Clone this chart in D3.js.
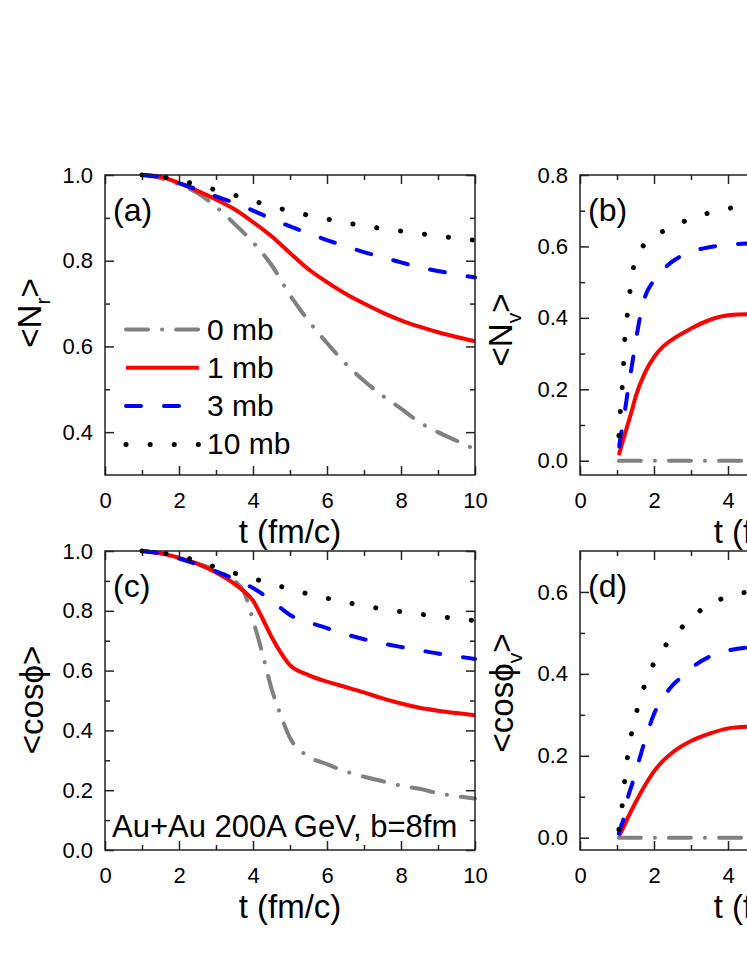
<!DOCTYPE html>
<html>
<head>
<meta charset="utf-8">
<script src="https://d3js.org/d3.v7.min.js"></script>
<style>
  body { margin: 0; background: #fff; }
  svg { display: block; font-family: "Liberation Sans", Arial, sans-serif; }
</style>
</head>
<body>
<div id="chart"></div>
<script>
// ---- data ----
const seriesNames = ['0 mb', '1 mb', '3 mb', '10 mb'];

// common time grid (fm/c)
const tGrid = [1, 1.5, 2, 2.5, 3, 3.5, 4, 4.5, 5, 5.5, 6, 6.5, 7, 7.5, 8, 8.5, 9, 9.5, 10];

// (a) <N_r>
const nr0  = [1.0, 0.993, 0.978, 0.958, 0.926, 0.886, 0.843, 0.790, 0.720, 0.660, 0.608, 0.560, 0.520, 0.485, 0.455, 0.423, 0.400, 0.380, 0.360];
const nr1  = [1.0, 0.996, 0.981, 0.963, 0.943, 0.920, 0.890, 0.857, 0.818, 0.780, 0.750, 0.723, 0.700, 0.679, 0.661, 0.646, 0.633, 0.622, 0.612];
const nr3  = [1.0, 0.995, 0.981, 0.966, 0.950, 0.935, 0.917, 0.898, 0.880, 0.864, 0.848, 0.834, 0.820, 0.808, 0.796, 0.785, 0.776, 0.768, 0.761];
const nr10 = [1.0, 0.997, 0.988, 0.977, 0.965, 0.953, 0.940, 0.927, 0.916, 0.906, 0.897, 0.889, 0.881, 0.875, 0.869, 0.863, 0.858, 0.852, 0.848];

// (b) <N_v>
const tZero = [1.05, 10];
const zero  = [0, 0];
const tB1  = [1.05, 1.1, 1.2, 1.3, 1.4, 1.5, 1.75, 2, 2.25, 2.5, 3, 3.5, 4, 4.5, 5];
const nv1  = [0.015, 0.035, 0.07, 0.105, 0.14, 0.178, 0.245, 0.29, 0.32, 0.34, 0.37, 0.394, 0.407, 0.41, 0.41];
const tB3  = [1.06, 1.1, 1.15, 1.2, 1.3, 1.4, 1.5, 1.6, 1.7, 1.8, 1.9, 2, 2.2, 2.5, 3, 3.5, 4, 4.5, 5];
const nv3  = [0.04, 0.07, 0.095, 0.13, 0.2, 0.265, 0.33, 0.39, 0.44, 0.47, 0.49, 0.505, 0.53, 0.558, 0.585, 0.598, 0.605, 0.608, 0.61];
const tB10 = [1.05, 1.08, 1.13, 1.17, 1.2, 1.26, 1.33, 1.41, 1.5, 1.6, 1.8, 2.1, 2.5, 3, 3.5, 4, 4.5, 5];
const nv10 = [0.07, 0.122, 0.189, 0.254, 0.322, 0.39, 0.455, 0.522, 0.56, 0.584, 0.612, 0.634, 0.655, 0.678, 0.694, 0.706, 0.713, 0.718];

// (c) <cos phi>
const tC   = [1, 1.5, 2, 2.5, 3, 3.5, 3.75, 4, 4.25, 4.5, 4.75, 5, 5.5, 6, 6.5, 7, 7.5, 8, 8.5, 9, 9.5, 10];
const cos0 = [1.0, 0.992, 0.978, 0.958, 0.935, 0.900, 0.865, 0.768, 0.660, 0.540, 0.450, 0.375, 0.313, 0.287, 0.263, 0.245, 0.230, 0.215, 0.205, 0.190, 0.180, 0.172];
const cos1 = [1.0, 0.992, 0.977, 0.957, 0.928, 0.890, 0.866, 0.834, 0.776, 0.713, 0.660, 0.618, 0.585, 0.563, 0.545, 0.527, 0.507, 0.490, 0.476, 0.466, 0.458, 0.451];
const cos3  = [1.0, 0.992, 0.975, 0.955, 0.932, 0.906, 0.876, 0.835, 0.786, 0.762, 0.742, 0.722, 0.705, 0.691, 0.679, 0.668, 0.657, 0.648, 0.639];
const cos10 = [1.0, 0.995, 0.982, 0.967, 0.945, 0.926, 0.908, 0.890, 0.873, 0.856, 0.842, 0.829, 0.817, 0.806, 0.797, 0.789, 0.781, 0.774, 0.767];

// (d) <cos phi_v>
const tD1  = [1.05, 1.1, 1.3, 1.5, 1.75, 2, 2.25, 2.5, 3, 3.5, 4, 4.5, 5];
const cv1  = [0.005, 0.012, 0.05, 0.086, 0.127, 0.162, 0.188, 0.208, 0.236, 0.254, 0.267, 0.271, 0.272];
const tD3  = [1.05, 1.1, 1.2, 1.3, 1.4, 1.5, 1.6, 1.8, 2, 2.2, 2.5, 2.8, 3, 3.5, 4, 4.5, 5];
const cv3  = [0.01, 0.025, 0.054, 0.10, 0.128, 0.158, 0.19, 0.25, 0.302, 0.335, 0.372, 0.396, 0.413, 0.442, 0.457, 0.464, 0.466];
const tD10 = [1.05, 1.08, 1.17, 1.23, 1.32, 1.44, 1.6, 1.8, 2.07, 2.43, 2.91, 3.47, 4.08, 4.5, 5];
const cv10 = [0.02, 0.043, 0.1, 0.16, 0.216, 0.275, 0.33, 0.386, 0.438, 0.482, 0.527, 0.569, 0.59, 0.60, 0.61];

// ticks
const xMajor = [0, 2, 4, 6, 8, 10];
const xMinor = [1, 3, 5, 7, 9];
const yMajorA = [0.4, 0.6, 0.8, 1.0];
const yMinorA = [0.5, 0.7, 0.9];
const yMajorB = [0.0, 0.2, 0.4, 0.6, 0.8];
const yMinorB = [0.1, 0.3, 0.5, 0.7];
const yMajorC = [0.0, 0.2, 0.4, 0.6, 0.8, 1.0];
const yMinorC = [0.1, 0.3, 0.5, 0.7, 0.9];
const yMajorD = [0.0, 0.2, 0.4, 0.6];
const yMinorD = [0.1, 0.3, 0.5];

// ---- styles ----
const styles = {
  '0 mb':  { color: '#808080', width: 4, dash: '22,14,0.1,14', cap: 'round' },
  '1 mb':  { color: '#ff0000', width: 4, dash: null, cap: 'butt' },
  '3 mb':  { color: '#0000ff', width: 4, dash: '15,23', cap: 'round' },
  '10 mb': { color: '#000000', width: 5, dash: '0.1,24', cap: 'round' }
};

const W = 747, H = 967;
const svg = d3.select('#chart').append('svg')
  .attr('width', W).attr('height', H);
svg.append('rect').attr('width', W).attr('height', H).attr('fill', '#fff');

function styled(sel, name) {
  const s = styles[name];
  return sel.attr('fill', 'none')
    .attr('stroke', s.color)
    .attr('stroke-width', s.width)
    .attr('stroke-linecap', s.cap)
    .attr('stroke-linejoin', 'round')
    .attr('stroke-dasharray', s.dash);
}

function drawPanel(p) {
  const x = d3.scaleLinear().domain([0, 10]).range([p.left, p.left + p.width]);
  const y = d3.scaleLinear().domain(p.yDomain).range([p.top + p.height, p.top]);
  const g = svg.append('g');

  const line = d3.line()
    .x(d => x(d[0]))
    .y(d => y(d[1]))
    .curve(d3.curveMonotoneX);

  p.series.forEach(s => {
    const pts = s.t.map((t, i) => [t, s.v[i]]);
    styled(g.append('path').datum(pts).attr('d', line), s.name);
  });

  // axes, ticks pointing inward
  const bottom = p.top + p.height, right = p.left + p.width;
  const addAxis = (axis, tx, ty) => {
    const a = g.append('g').attr('transform', `translate(${tx},${ty})`).call(axis);
    a.select('.domain').remove();
    a.selectAll('line').attr('stroke', '#222').attr('stroke-width', 1.5);
    a.selectAll('text').attr('font-size', 22).attr('fill', '#000')
      .attr('font-family', '"Liberation Sans", Arial, sans-serif');
    return a;
  };
  addAxis(d3.axisBottom(x).tickValues(xMajor).tickSize(-9).tickSizeOuter(0)
    .tickPadding(17).tickFormat(d3.format('d')), 0, bottom);
  addAxis(d3.axisBottom(x).tickValues(xMinor).tickSize(-5).tickSizeOuter(0).tickFormat(''), 0, bottom);
  addAxis(d3.axisTop(x).tickValues(xMajor).tickSize(-9).tickSizeOuter(0).tickFormat(''), 0, p.top);
  addAxis(d3.axisTop(x).tickValues(xMinor).tickSize(-5).tickSizeOuter(0).tickFormat(''), 0, p.top);
  addAxis(d3.axisLeft(y).tickValues(p.yMajor).tickSize(-9).tickSizeOuter(0)
    .tickPadding(12).tickFormat(d3.format('.1f')), p.left, 0);
  addAxis(d3.axisLeft(y).tickValues(p.yMinor).tickSize(-5).tickSizeOuter(0).tickFormat(''), p.left, 0);
  addAxis(d3.axisRight(y).tickValues(p.yMajor).tickSize(-9).tickSizeOuter(0).tickFormat(''), right, 0);
  addAxis(d3.axisRight(y).tickValues(p.yMinor).tickSize(-5).tickSizeOuter(0).tickFormat(''), right, 0);

  g.append('rect')
    .attr('x', p.left).attr('y', p.top)
    .attr('width', p.width).attr('height', p.height)
    .attr('fill', 'none').attr('stroke', '#222').attr('stroke-width', 1.5);

  // panel tag
  g.append('text').attr('x', p.left + 8).attr('y', p.top + 46)
    .attr('font-size', 32).text(p.tag);

  // x title
  g.append('text').attr('x', p.left + p.width / 2).attr('y', bottom + 68)
    .attr('text-anchor', 'middle').attr('font-size', 33).text('t (fm/c)');

  // y title with subscript
  const yt = g.append('text')
    .attr('transform', `translate(${p.ylabX},${p.ylabY}) rotate(-90)`)
    .attr('text-anchor', 'middle').attr('font-size', 33);
  yt.append('tspan').text(p.ylab[0]);
  if (p.ylab[1]) yt.append('tspan').attr('font-size', 21).attr('dy', 9).text(p.ylab[1]);
  yt.append('tspan').attr('dy', p.ylab[1] ? -9 : 0).text('>');

  return { x, y, g };
}

const mk = (t, v, name) => ({ t, v, name });

const pa = drawPanel({
  tag: '(a)', left: 105, top: 175, width: 370, height: 300,
  yDomain: [0.3, 1.0], yMajor: yMajorA, yMinor: yMinorA,
  ylab: ['<N', 'r'], ylabX: 41, ylabY: 313,
  series: [mk(tGrid, nr0, '0 mb'), mk(tGrid, nr1, '1 mb'), mk(tGrid, nr3, '3 mb'), mk(tGrid, nr10, '10 mb')]
});

drawPanel({
  tag: '(b)', left: 580, top: 175, width: 370, height: 300,
  yDomain: [-0.04, 0.8], yMajor: yMajorB, yMinor: yMinorB,
  ylab: ['<N', 'v'], ylabX: 512, ylabY: 330,
  series: [mk(tZero, zero, '0 mb'), mk(tB1, nv1, '1 mb'), mk(tB3, nv3, '3 mb'), mk(tB10, nv10, '10 mb')]
});

const pc = drawPanel({
  tag: '(c)', left: 105, top: 551, width: 370, height: 299,
  yDomain: [0.0, 1.0], yMajor: yMajorC, yMinor: yMinorC,
  ylab: ['<cos\u03D5', null], ylabX: 43, ylabY: 700,
  series: [mk(tC, cos0, '0 mb'), mk(tC, cos1, '1 mb'), mk(tGrid, cos3, '3 mb'), mk(tGrid, cos10, '10 mb')]
});

drawPanel({
  tag: '(d)', left: 580, top: 551, width: 370, height: 299,
  yDomain: [-0.03, 0.7], yMajor: yMajorD, yMinor: yMinorD,
  ylab: ['<cos\u03D5', 'v'], ylabX: 513, ylabY: 693,
  series: [mk(tZero, zero, '0 mb'), mk(tD1, cv1, '1 mb'), mk(tD3, cv3, '3 mb'), mk(tD10, cv10, '10 mb')]
});

// legend in (a)
const leg = pa.g.append('g');
seriesNames.forEach((name, i) => {
  const cy = 329.5 + i * 38.3;
  styled(leg.append('line').attr('x1', 126).attr('x2', 199).attr('y1', cy).attr('y2', cy), name);
  leg.append('text').attr('x', 207).attr('y', cy + 10).attr('font-size', 30).text(name);
});

// collision system note in (c)
pc.g.append('text').attr('x', 112).attr('y', 837).attr('font-size', 31)
  .text('Au+Au 200A GeV, b=8fm');
</script>
</body>
</html>
